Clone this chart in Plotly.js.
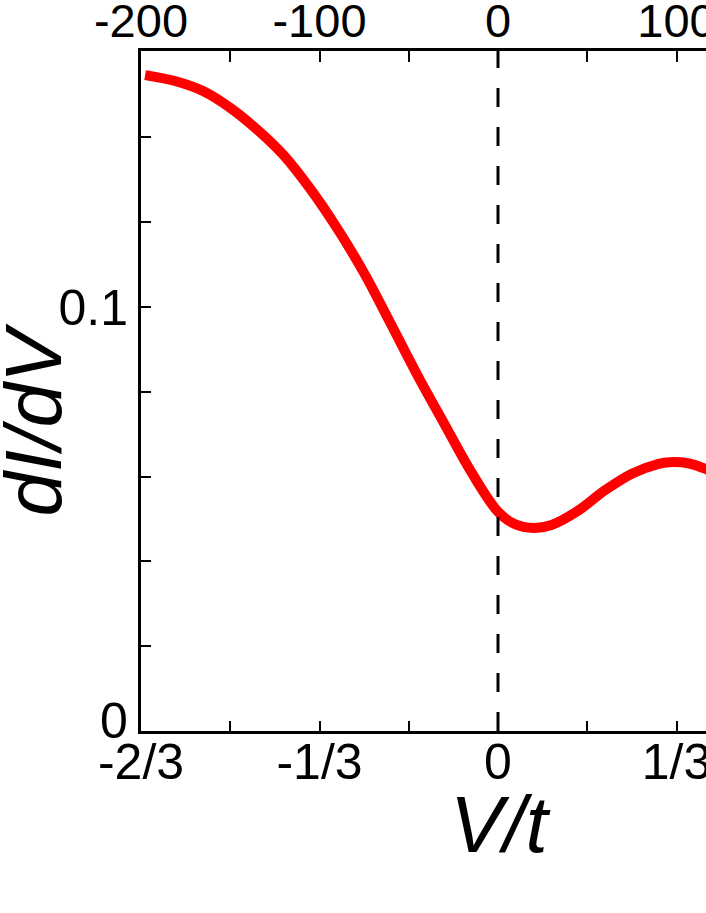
<!DOCTYPE html>
<html>
<head>
<meta charset="utf-8">
<script src="https://cdn.plot.ly/plotly-3.0.1.min.js"></script>
<style>
html,body{margin:0;padding:0;overflow:hidden;background:#fff;}
#chart{width:900px;height:913px;}
</style>
</head>
<body>
<div id="chart"></div>
<script>
// V/t values and dI/dV values
const vOverT = [-0.659, -0.60, -0.55, -0.50, -0.45, -0.40, -0.35, -0.30, -0.25, -0.20, -0.15, -0.10, -0.05, 0.0, 0.03, 0.067, 0.10, 0.15, 0.20, 0.25, 0.30, 0.32, 0.357, 0.388, 0.40];
const dIdV   = [0.1547, 0.1532, 0.1509, 0.1470, 0.1419, 0.1358, 0.1278, 0.1185, 0.1080, 0.0960, 0.0838, 0.0724, 0.0611, 0.0517, 0.0489, 0.0479, 0.0486, 0.0520, 0.0568, 0.0607, 0.0630, 0.0634, 0.0631, 0.0618, 0.0610];

// bottom axis ticks (V/t)
const bottomTickVals = [-4/6, -3/6, -2/6, -1/6, 0, 1/6, 2/6, 3/6, 4/6];
const bottomTickText = ['-2/3', '', '-1/3', '', '0', '', '1/3', '', '2/3'];
// top axis ticks (meV)
const topTickVals = [-200, -150, -100, -50, 0, 50, 100, 150, 200];
const topTickText = ['-200', '', '-100', '', '0', '', '100', '', '200'];
// y axis ticks (the "0" label is drawn as an annotation, raised above the corner)
const yTickVals = [0, 0.02, 0.04, 0.06, 0.08, 0.10, 0.12, 0.14];
const yTickText = ['', '', '', '', '', '0.1', '', ''];
const yZeroLabel = '0';

const xTitle = 'V/t';
const yTitle = 'dI/dV';

const FONT = 'Liberation Sans, Arial, sans-serif';

const traces = [
  {x: vOverT, y: dIdV, type: 'scatter', mode: 'lines', line: {color: '#ff0000', width: 10, shape: 'spline', smoothing: 1}, xaxis: 'x', yaxis: 'y', hoverinfo: 'skip'},
  {x: [-200, 200], y: [null, null], type: 'scatter', mode: 'lines', xaxis: 'x2', yaxis: 'y', showlegend: false, hoverinfo: 'skip'}
];

const layout = {
  width: 900, height: 913,
  margin: {l: 141, r: 45, t: 51, b: 182},
  paper_bgcolor: '#fff', plot_bgcolor: '#fff',
  showlegend: false,
  xaxis: {
    range: [-2/3, 2/3], tickmode: 'array', tickvals: bottomTickVals, ticktext: bottomTickText,
    ticks: 'inside', ticklen: 10, tickwidth: 2, tickcolor: '#000',
    showline: true, linewidth: 3, linecolor: '#000', showgrid: false, zeroline: false,
    tickfont: {family: FONT, size: 50, color: '#000'}, ticklabelstandoff: -15
  },
  xaxis2: {
    range: [-200, 200], overlaying: 'x', side: 'top', tickmode: 'array', tickvals: topTickVals, ticktext: topTickText,
    ticks: 'inside', ticklen: 11, tickwidth: 2, tickcolor: '#000',
    showline: true, linewidth: 3, linecolor: '#000', showgrid: false, zeroline: false,
    tickfont: {family: FONT, size: 47, color: '#000'}, ticklabelstandoff: -8
  },
  yaxis: {
    range: [0, 0.1604], tickmode: 'array', tickvals: yTickVals, ticktext: yTickText,
    ticks: 'inside', ticklen: 10, tickwidth: 2, tickcolor: '#000',
    showline: true, linewidth: 3, linecolor: '#000', mirror: true, showgrid: false, zeroline: false,
    tickfont: {family: FONT, size: 50, color: '#000'}, ticklabelstandoff: 0
  },
  shapes: [
    {type: 'line', xref: 'x', yref: 'paper', x0: 0, x1: 0, y0: 0, y1: 1, line: {color: '#000', width: 3, dash: '19px,20px'}}
  ],
  annotations: [
    {text: yZeroLabel, xref: 'paper', yref: 'y', x: -0.015, y: 0, xanchor: 'right', yanchor: 'middle', yshift: 10, showarrow: false,
     font: {family: FONT, size: 50, color: '#000'}},
    {text: xTitle, xref: 'paper', yref: 'paper', x: 0.504, y: -0.137, xanchor: 'center', yanchor: 'middle', showarrow: false,
     font: {family: FONT, size: 80, color: '#000', style: 'italic'}},
    {text: yTitle, xref: 'paper', yref: 'paper', x: -0.151, y: 0.457, xanchor: 'center', yanchor: 'middle', showarrow: false, textangle: -90,
     font: {family: FONT, size: 80, color: '#000', style: 'italic'}}
  ]
};

Plotly.newPlot('chart', traces, layout, {staticPlot: true, displayModeBar: false});
</script>
</body>
</html>
